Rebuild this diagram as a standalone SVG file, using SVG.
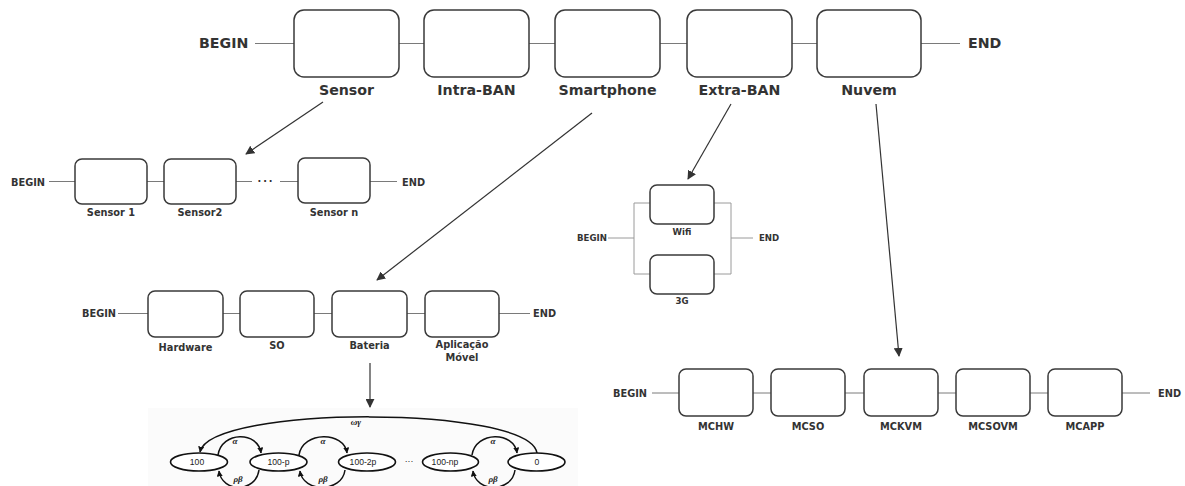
<svg xmlns="http://www.w3.org/2000/svg" width="1185" height="486" viewBox="0 0 1185 486">
  <defs>
    <marker id="arrow" viewBox="0 0 10 10" refX="9" refY="5" markerWidth="9" markerHeight="9" markerUnits="userSpaceOnUse" orient="auto">
      <path d="M0,0 L10,5 L0,10 z" fill="#333"/>
    </marker>
    <marker id="arrowSmall" viewBox="0 0 10 10" refX="9" refY="5" markerWidth="6" markerHeight="6" markerUnits="userSpaceOnUse" orient="auto">
      <path d="M0,0 L10,5 L0,10 z" fill="#111"/>
    </marker>
    <style>
      .box { fill: #fff; stroke: #3a3a3a; stroke-width: 1.5; }
      .wire { stroke: #7a7a7a; stroke-width: 1; fill: none; }
      .wire-light { stroke: #9a9a9a; stroke-width: 1; fill: none; }
      .link { stroke: #333; stroke-width: 1.2; fill: none; marker-end: url(#arrow); }
      .big { font-family: "DejaVu Sans", Verdana, sans-serif; font-weight: bold; font-size: 14.2px; fill: #333; }
      .small { font-family: "DejaVu Sans", Verdana, sans-serif; font-weight: bold; font-size: 9.8px; fill: #333; }
      .tiny { font-family: "DejaVu Sans", Verdana, sans-serif; font-weight: bold; font-size: 8.6px; fill: #333; }
      .state { fill: #fff; stroke: #111; stroke-width: 1.6; }
      .stxt { font-family: "Liberation Sans", Arial, sans-serif; font-size: 8.6px; fill: #222; }
      .greek { font-family: "Liberation Serif", "Times New Roman", serif; font-style: italic; font-weight: bold; font-size: 9px; fill: #222; }
      .trans { stroke: #111; stroke-width: 1.5; fill: none; marker-end: url(#arrowSmall); }
    </style>
  </defs>

  <!-- Top level: BAN chain -->
  <g id="top-chain">
    <text class="big" x="199" y="48">BEGIN</text>
    <text class="big" x="968" y="48">END</text>
    <g class="wires">
      <line class="wire" x1="255" y1="43.5" x2="294" y2="43.5"/>
      <line class="wire" x1="399" y1="43.5" x2="424" y2="43.5"/>
      <line class="wire" x1="529" y1="43.5" x2="555" y2="43.5"/>
      <line class="wire" x1="660" y1="43.5" x2="687" y2="43.5"/>
      <line class="wire" x1="792" y1="43.5" x2="817" y2="43.5"/>
      <line class="wire" x1="921" y1="43.5" x2="960" y2="43.5"/>
    </g>
    <g id="sensor"><rect class="box" x="294" y="10" width="105" height="67" rx="10"/><text class="big" x="346.5" y="95" text-anchor="middle">Sensor</text></g>
    <g id="intra-ban"><rect class="box" x="424" y="10" width="105" height="67" rx="10"/><text class="big" x="476.5" y="95" text-anchor="middle">Intra-BAN</text></g>
    <g id="smartphone"><rect class="box" x="555" y="10" width="105" height="67" rx="10"/><text class="big" x="607.5" y="95" text-anchor="middle">Smartphone</text></g>
    <g id="extra-ban"><rect class="box" x="687" y="10" width="105" height="67" rx="10"/><text class="big" x="739.5" y="95" text-anchor="middle">Extra-BAN</text></g>
    <g id="nuvem"><rect class="box" x="817" y="10" width="104" height="67" rx="10"/><text class="big" x="869" y="95" text-anchor="middle">Nuvem</text></g>
  </g>

  <!-- Sensor chain -->
  <g id="sensor-chain">
    <text class="small" x="11" y="185.5">BEGIN</text>
    <text class="small" x="402" y="185.5">END</text>
    <line class="wire" x1="49" y1="181.5" x2="75" y2="181.5"/>
    <line class="wire" x1="147" y1="181.5" x2="164" y2="181.5"/>
    <line class="wire" x1="236" y1="181.5" x2="252" y2="181.5"/>
    <text class="small" x="266" y="185" text-anchor="middle" letter-spacing="2">···</text>
    <line class="wire" x1="280" y1="181.5" x2="298" y2="181.5"/>
    <line class="wire" x1="370" y1="181.5" x2="397" y2="181.5"/>
    <g id="sensor-1"><rect class="box" x="75" y="159" width="72" height="45" rx="7"/><text class="small" x="111" y="216" text-anchor="middle">Sensor 1</text></g>
    <g id="sensor-2"><rect class="box" x="164" y="159" width="72" height="45" rx="7"/><text class="small" x="200" y="216" text-anchor="middle">Sensor2</text></g>
    <g id="sensor-n"><rect class="box" x="298" y="158" width="72" height="45" rx="7"/><text class="small" x="334" y="216" text-anchor="middle">Sensor n</text></g>
  </g>

  <!-- Smartphone chain -->
  <g id="smartphone-chain">
    <text class="small" x="82" y="317">BEGIN</text>
    <text class="small" x="533" y="317">END</text>
    <line class="wire" x1="118" y1="313.5" x2="148" y2="313.5"/>
    <line class="wire" x1="223" y1="313.5" x2="240" y2="313.5"/>
    <line class="wire" x1="314" y1="313.5" x2="332" y2="313.5"/>
    <line class="wire" x1="407" y1="313.5" x2="425" y2="313.5"/>
    <line class="wire" x1="499" y1="313.5" x2="530" y2="313.5"/>
    <g id="hardware"><rect class="box" x="148" y="291" width="75" height="46" rx="7"/><text class="small" x="185.5" y="351" text-anchor="middle">Hardware</text></g>
    <g id="so"><rect class="box" x="240" y="291" width="74" height="46" rx="7"/><text class="small" x="277" y="349" text-anchor="middle">SO</text></g>
    <g id="bateria"><rect class="box" x="332" y="291" width="75" height="46" rx="7"/><text class="small" x="369.5" y="349" text-anchor="middle">Bateria</text></g>
    <g id="aplicacao"><rect class="box" x="425" y="291" width="74" height="46" rx="7"/><text class="small" x="462" y="348" text-anchor="middle">Aplicação</text><text class="small" x="462" y="361" text-anchor="middle">Móvel</text></g>
  </g>

  <!-- Extra-BAN parallel block -->
  <g id="extra-ban-block">
    <text class="tiny" x="577" y="241">BEGIN</text>
    <text class="tiny" x="759" y="241">END</text>
    <polyline class="wire-light" points="608,238 634,238"/>
    <polyline class="wire-light" points="650,203 634,203 634,274 650,274"/>
    <polyline class="wire-light" points="714,203 731,203 731,274 714,274"/>
    <line class="wire-light" x1="731" y1="238" x2="753" y2="238"/>
    <g id="wifi"><rect class="box" x="650" y="185" width="64" height="39" rx="7"/><text class="tiny" x="682" y="235" text-anchor="middle">Wifi</text></g>
    <g id="g3"><rect class="box" x="650" y="255" width="64" height="39" rx="7"/><text class="tiny" x="682" y="304" text-anchor="middle">3G</text></g>
  </g>

  <!-- Cloud chain -->
  <g id="cloud-chain">
    <text class="small" x="613" y="397">BEGIN</text>
    <text class="small" x="1158" y="397">END</text>
    <line class="wire" x1="652" y1="393" x2="679" y2="393"/>
    <line class="wire" x1="753" y1="393" x2="771" y2="393"/>
    <line class="wire" x1="845" y1="393" x2="864" y2="393"/>
    <line class="wire" x1="938" y1="393" x2="956" y2="393"/>
    <line class="wire" x1="1030" y1="393" x2="1048" y2="393"/>
    <line class="wire" x1="1122" y1="393" x2="1150" y2="393"/>
    <g id="mchw"><rect class="box" x="679" y="369" width="74" height="47" rx="7"/><text class="small" x="716" y="430" text-anchor="middle">MCHW</text></g>
    <g id="mcso"><rect class="box" x="771" y="369" width="74" height="47" rx="7"/><text class="small" x="808" y="430" text-anchor="middle">MCSO</text></g>
    <g id="mckvm"><rect class="box" x="864" y="369" width="74" height="47" rx="7"/><text class="small" x="901" y="430" text-anchor="middle">MCKVM</text></g>
    <g id="mcsovm"><rect class="box" x="956" y="369" width="74" height="47" rx="7"/><text class="small" x="993" y="430" text-anchor="middle">MCSOVM</text></g>
    <g id="mcapp"><rect class="box" x="1048" y="369" width="74" height="47" rx="7"/><text class="small" x="1085" y="430" text-anchor="middle">MCAPP</text></g>
  </g>

  <!-- Battery Markov chain -->
  <g id="battery-model">
    <rect x="148" y="408" width="430" height="78" fill="#fbfbfb"/>
    <g id="markov-transitions">
      <path class="trans" d="M537,453 C530,405 210,405 200,452"/>
      <path class="trans" d="M218,455 C222,431 258,431 261,453"/>
      <path class="trans" d="M259,470 C256,493 222,493 219,471"/>
      <path class="trans" d="M299,455 C303,431 344,431 347,453"/>
      <path class="trans" d="M345,470 C342,493 303,493 300,471"/>
      <path class="trans" d="M472,455 C476,431 514,431 517,453"/>
      <path class="trans" d="M515,470 C512,493 476,493 473,471"/>
    </g>
    <g id="state-100"><ellipse class="state" cx="199" cy="462" rx="28.5" ry="9"/><text class="stxt" x="197" y="465" text-anchor="middle">100</text></g>
    <g id="state-100-p"><ellipse class="state" cx="278.5" cy="462" rx="28.5" ry="9"/><text class="stxt" x="278.5" y="465" text-anchor="middle">100-p</text></g>
    <g id="state-100-2p"><ellipse class="state" cx="367" cy="462" rx="28.5" ry="9"/><text class="stxt" x="363" y="465" text-anchor="middle">100-2p</text></g>
    <text class="stxt" x="409" y="464" text-anchor="middle">···</text>
    <g id="state-100-np"><ellipse class="state" cx="450.5" cy="462" rx="28" ry="9"/><text class="stxt" x="445" y="465" text-anchor="middle">100-np</text></g>
    <g id="state-0"><ellipse class="state" cx="536.5" cy="462" rx="28.5" ry="9"/><text class="stxt" x="537" y="465" text-anchor="middle">0</text></g>
    <text class="greek" x="356" y="425" text-anchor="middle">ωγ</text>
    <text class="greek" x="235" y="444" text-anchor="middle">α</text>
    <text class="greek" x="323" y="444" text-anchor="middle">α</text>
    <text class="greek" x="493" y="444" text-anchor="middle">α</text>
    <text class="greek" x="238" y="482" text-anchor="middle">ρβ</text>
    <text class="greek" x="323" y="482" text-anchor="middle">ρβ</text>
    <text class="greek" x="493" y="482" text-anchor="middle">ρβ</text>
  </g>

  <!-- Refinement arrows -->
  <g id="connectors">
    <line class="link" x1="323" y1="102" x2="246" y2="154"/>
    <line class="link" x1="592" y1="113" x2="377" y2="280"/>
    <line class="link" x1="731" y1="104" x2="688" y2="179"/>
    <line class="link" x1="876" y1="104" x2="899" y2="356"/>
    <line class="link" x1="370" y1="363" x2="370" y2="407"/>
  </g>
</svg>
